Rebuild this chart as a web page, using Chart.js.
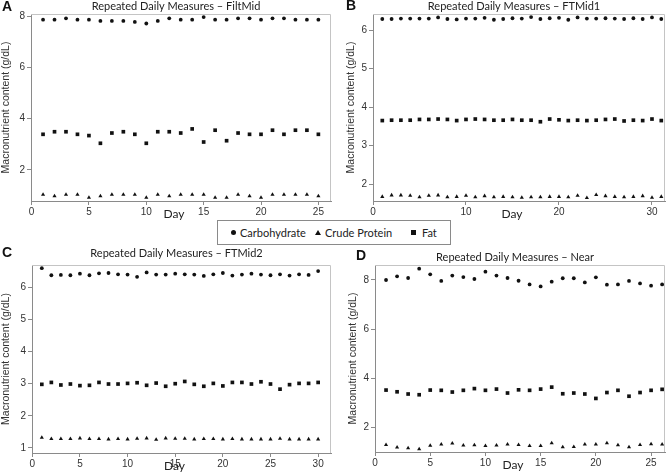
<!DOCTYPE html>
<html>
<head>
<meta charset="utf-8">
<script src="https://cdn.jsdelivr.net/npm/chart.js@4.4.1/dist/chart.umd.min.js"></script>
<style>
body { margin: 0; background: #fff; }
#wrap { position: relative; width: 669px; height: 472px; overflow: hidden; }
canvas { position: absolute; }
#legend { position: absolute; left: 217px; top: 220px; width: 232px; height: 23px; border: 1px solid #8a8a8a; background: #fff;
	font-family: Lato, sans-serif; font-size: 11px; color: #222; }
#legend span { position: absolute; top: 5px; }
.sym { position: absolute; background: #111; }
</style>
</head>
<body>
<div id="wrap">
	<canvas id="chartA" width="335" height="222" style="left:0;top:0"></canvas>
	<canvas id="chartB" width="335" height="222" style="left:334px;top:0"></canvas>
	<canvas id="chartC" width="335" height="236" style="left:0;top:236px"></canvas>
	<canvas id="chartD" width="335" height="236" style="left:334px;top:236px"></canvas>
	<div id="legend">
		<div class="sym" style="left:13px;top:9px;width:5px;height:5px;border-radius:50%"></div>
		<span style="left:22px">Carbohydrate</span>
		<div class="sym" style="left:97px;top:9px;width:0;height:0;background:none;border-left:3px solid transparent;border-right:3px solid transparent;border-bottom:5px solid #111"></div>
		<span style="left:107px">Crude Protein</span>
		<div class="sym" style="left:193px;top:9px;width:5px;height:5px"></div>
		<span style="left:204px">Fat</span>
	</div>
</div>
<script>
// days
var daysA = [1,2,3,4,5,6,7,8,9,10,11,12,13,14,15,16,17,18,19,20,21,22,23,24,25];
var daysB = [1,2,3,4,5,6,7,8,9,10,11,12,13,14,15,16,17,18,19,20,21,22,23,24,25,26,27,28,29,30,31];
var daysC = [1,2,3,4,5,6,7,8,9,10,11,12,13,14,15,16,17,18,19,20,21,22,23,24,25,26,27,28,29,30];
var daysD = [1,2,3,4,5,6,7,8,9,10,11,12,13,14,15,16,17,18,19,20,21,22,23,24,25,26];

// FiltMid
var carbA = [7.86,7.86,7.91,7.86,7.86,7.81,7.81,7.81,7.77,7.71,7.81,7.91,7.86,7.86,7.96,7.86,7.86,7.91,7.91,7.86,7.91,7.91,7.86,7.86,7.86];
var protA = [1.04,0.98,1.04,1.04,0.92,0.98,1.04,1.04,1.04,0.92,1.04,0.98,1.04,1.04,1.04,0.92,0.92,1.04,0.98,0.92,1.04,1.04,1.04,1.04,0.98];
var fatA  = [3.39,3.49,3.49,3.39,3.34,3.04,3.44,3.49,3.39,3.04,3.49,3.49,3.44,3.6,3.09,3.55,3.14,3.44,3.39,3.39,3.55,3.39,3.55,3.55,3.39];

// FTMid1
var carbB = [6.29,6.29,6.30,6.30,6.30,6.30,6.33,6.29,6.28,6.30,6.30,6.32,6.27,6.29,6.31,6.30,6.34,6.29,6.31,6.32,6.27,6.33,6.30,6.30,6.31,6.30,6.29,6.31,6.29,6.33,6.29];
var protB = [1.67,1.71,1.71,1.70,1.66,1.70,1.71,1.66,1.67,1.70,1.66,1.69,1.66,1.67,1.66,1.65,1.66,1.66,1.67,1.67,1.66,1.70,1.64,1.72,1.69,1.67,1.66,1.67,1.69,1.65,1.67];
var fatB  = [3.65,3.66,3.66,3.66,3.68,3.68,3.69,3.68,3.65,3.68,3.69,3.68,3.66,3.66,3.68,3.66,3.66,3.62,3.69,3.67,3.65,3.66,3.65,3.66,3.68,3.69,3.64,3.66,3.65,3.69,3.65];

// FTMid2
var carbC = [6.6,6.38,6.39,6.38,6.43,6.38,6.44,6.45,6.41,6.4,6.33,6.47,6.4,6.4,6.43,6.41,6.4,6.36,6.41,6.45,6.37,6.4,6.43,6.4,6.38,6.41,6.37,6.41,6.39,6.51];
var protC = [1.32,1.28,1.28,1.28,1.3,1.28,1.28,1.27,1.28,1.27,1.29,1.3,1.26,1.3,1.29,1.29,1.27,1.28,1.28,1.27,1.28,1.27,1.27,1.27,1.27,1.29,1.27,1.27,1.27,1.27];
var fatC  = [2.98,3.04,2.96,2.99,2.94,2.95,3.04,2.99,2.99,3.01,3.03,2.95,3.02,2.92,3.0,3.07,2.98,2.92,3.01,2.93,3.04,3.04,2.99,3.06,2.99,2.83,2.97,3.01,3.01,3.04];

// Near
var carbD = [8.0,8.15,8.08,8.46,8.23,7.96,8.18,8.12,8.04,8.34,8.18,8.08,7.97,7.82,7.74,7.93,8.07,8.07,7.9,8.11,7.81,7.82,7.96,7.86,7.77,7.82];
var protD = [1.29,1.19,1.16,1.12,1.26,1.31,1.35,1.27,1.28,1.25,1.27,1.31,1.29,1.25,1.25,1.36,1.2,1.21,1.31,1.31,1.36,1.28,1.2,1.29,1.32,1.31];
var fatD  = [3.52,3.45,3.36,3.33,3.52,3.51,3.44,3.51,3.58,3.51,3.56,3.4,3.53,3.51,3.56,3.64,3.37,3.4,3.36,3.18,3.42,3.51,3.27,3.42,3.51,3.55];

// tick labels
var xTicksA = [0,5,10,15,20,25];
var yTicksA = [2,4,6,8];
var xTicksB = [0,10,20,30];
var yTicksB = [2,3,4,5,6];
var xTicksC = [0,5,10,15,20,25,30];
var yTicksC = [1,2,3,4,5,6];
var xTicksD = [0,5,10,15,20,25];
var yTicksD = [2,4,6,8];

var panels = [
	{id: "chartA", letter: "A", lx: 2, ly: 7, title: "Repeated Daily Measures \u2013 FiltMid", ty: 6,
	 padTop: 14, xH: 21, yW: 31, yTitlePad: 0, xMin: -0.05, xMax: 26.1, yMin: 0.79, yMax: 8.08,
	 days: daysA, carb: carbA, prot: protA, fat: fatA, xt: xTicksA, yt: yTicksA},
	{id: "chartB", letter: "B", lx: 12, ly: 6, title: "Repeated Daily Measures \u2013 FTMid1", ty: 6,
	 padTop: 14, xH: 21, yW: 39, yTitlePad: 11, xMin: 0, xMax: 31.4, yMin: 1.56, yMax: 6.42,
	 days: daysB, carb: carbB, prot: protB, fat: fatB, xt: xTicksB, yt: yTicksB},
	{id: "chartC", letter: "C", lx: 2, ly: 17, title: "Repeated Daily Measures \u2013 FTMid2", ty: 17,
	 padTop: 29, xH: 19, yW: 32, yTitlePad: 0, xMin: -0.03, xMax: 31.35, yMin: 0.84, yMax: 6.7,
	 days: daysC, carb: carbC, prot: protC, fat: fatC, xt: xTicksC, yt: yTicksC},
	{id: "chartD", letter: "D", lx: 22, ly: 20, title: "Repeated Daily Measures \u2013 Near", ty: 21,
	 padTop: 29, xH: 20, yW: 41, yTitlePad: 13, xMin: 0, xMax: 26.26, yMin: 1.0, yMax: 8.61,
	 days: daysD, carb: carbD, prot: protD, fat: fatD, xt: xTicksD, yt: yTicksD}
];

function pairs(days, vals) {
	return days.map((d, i) => ({x: d, y: vals[i]}));
}

var panelText = {
	id: "panelText",
	afterDraw(chart, args, opts) {
		var ctx = chart.ctx;
		var a = chart.chartArea;
		ctx.save();
		// frame
		ctx.strokeStyle = "#c4c4c4";
		ctx.lineWidth = 1;
		ctx.beginPath();
		ctx.moveTo(a.left, a.top + 0.5);
		ctx.lineTo(a.right - 0.5, a.top + 0.5);
		ctx.lineTo(a.right - 0.5, a.bottom);
		ctx.stroke();
		// letter
		ctx.fillStyle = "#111";
		ctx.font = "bold 14px 'Liberation Sans', Arial, sans-serif";
		ctx.textBaseline = "middle";
		ctx.textAlign = "left";
		ctx.fillText(opts.letter, opts.lx, opts.ly);
		// title
		ctx.fillStyle = "#222";
		ctx.font = "11px Lato, sans-serif";
		ctx.textAlign = "center";
		ctx.fillText(opts.title, (a.left + a.right) / 2 - 5, opts.ty);
		// x title
		ctx.font = "12px Lato, sans-serif";
		ctx.fillText("Day", (a.left + a.right) / 2 - 7, a.bottom + 13);
		ctx.restore();
	}
};

panels.forEach(function (p) {
	new Chart(p.id, {
		type: "scatter",
		data: {
			datasets: [
				{label: "Carbohydrate", data: pairs(p.days, p.carb), pointStyle: "circle", pointRadius: 1.9,
				 backgroundColor: "#111", borderColor: "#111", borderWidth: 0},
				{label: "Crude Protein", data: pairs(p.days, p.prot), pointStyle: "triangle", pointRadius: 2.4,
				 backgroundColor: "#111", borderColor: "#111", borderWidth: 0},
				{label: "Fat", data: pairs(p.days, p.fat), pointStyle: "rect", pointRadius: 2.6,
				 backgroundColor: "#111", borderColor: "#111", borderWidth: 0}
			]
		},
		options: {
			responsive: false,
			animation: false,
			events: [],
			layout: {padding: {top: p.padTop, left: 0, right: 1, bottom: 0}},
			plugins: {
				legend: {display: false},
				tooltip: {enabled: false},
				panelText: {letter: p.letter, lx: p.lx, ly: p.ly, title: p.title, ty: p.ty}
			},
			scales: {
				x: {
					type: "linear", min: p.xMin, max: p.xMax,
					afterBuildTicks: s => { s.ticks = p.xt.map(v => ({value: v})); },
					afterFit: s => { s.height = p.xH; },
					grid: {display: true, drawOnChartArea: false, tickLength: 4, color: "#8a8a8a"},
					border: {color: "#8a8a8a"},
					ticks: {padding: 1, maxRotation: 0, color: "#333", font: {family: "'Liberation Sans', Arial", size: 10}}
				},
				y: {
					min: p.yMin, max: p.yMax,
					afterBuildTicks: s => { s.ticks = p.yt.map(v => ({value: v})); },
					afterFit: s => { s.width = p.yW; },
					grid: {display: true, drawOnChartArea: false, tickLength: 4, color: "#8a8a8a"},
					border: {color: "#8a8a8a"},
					ticks: {padding: 2, color: "#333", font: {family: "'Liberation Sans', Arial", size: 10}},
					title: {display: true, text: "Macronutrient content (g/dL)", color: "#333",
						padding: {top: p.yTitlePad, bottom: 0}, font: {family: "'Liberation Sans', Arial", size: 10.5}}
				}
			}
		},
		plugins: [panelText]
	});
});
</script>
</body>
</html>
